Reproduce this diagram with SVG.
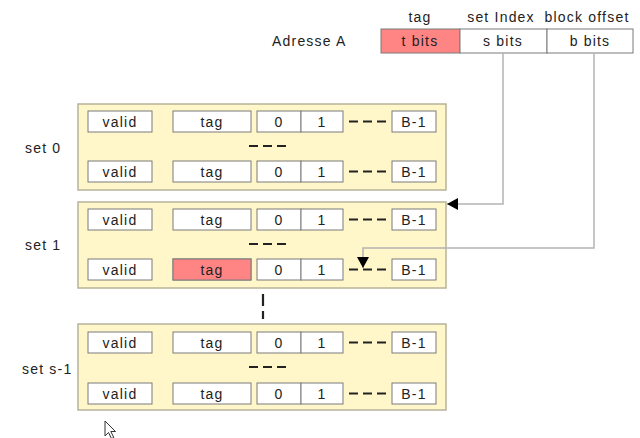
<svg xmlns="http://www.w3.org/2000/svg" width="640" height="438" viewBox="0 0 640 438">
  <style>
    text { font-family: "Liberation Sans", Arial, sans-serif; font-size: 14px; fill: #222; letter-spacing: 1.2px; }
    .c { text-anchor: middle; }
    .set { fill: #fff7c9; stroke: #b8b29a; stroke-width: 1.5; }
    .cell { fill: #fff; stroke: #7a7a7a; stroke-width: 1; }
    .hot { fill: #ff8585; stroke: #7a7a7a; stroke-width: 1; }
    .dash { stroke: #222; stroke-width: 2.2; stroke-dasharray: 9 5; fill: none; }
    .link { stroke: #b4b4b4; stroke-width: 1.5; fill: none; }
  </style>
  <defs>
    <marker id="head" markerUnits="userSpaceOnUse" markerWidth="12" markerHeight="12" refX="11" refY="6" orient="auto">
      <path d="M0,0 L11,6 L0,12 z" fill="#000"/>
    </marker>
    <!-- one cache line: valid, tag, data words 0..B-1 -->
    <g id="line">
      <rect class="cell" x="88" y="0" width="64" height="21"/>
      <text class="c" x="120" y="16">valid</text>
      <rect class="cell" x="173" y="0" width="78" height="21"/>
      <text class="c" x="212" y="16">tag</text>
      <rect class="cell" x="257" y="0" width="44" height="21"/>
      <text class="c" x="279" y="16">0</text>
      <rect class="cell" x="301" y="0" width="42" height="21"/>
      <text class="c" x="322" y="16">1</text>
      <path class="dash" d="M349,10.5 H388"/>
      <rect class="cell" x="392" y="0" width="44" height="21"/>
      <text class="c" x="414" y="16">B-1</text>
    </g>
  </defs>

  <!-- address split into tag / set index / block offset -->
  <g id="address">
    <text x="272" y="46">Adresse A</text>
    <text class="c" x="420" y="22">tag</text>
    <text class="c" x="501" y="22">set Index</text>
    <text class="c" x="587" y="22">block offset</text>
    <rect class="hot" x="381" y="29" width="79" height="24"/>
    <text class="c" x="420" y="46">t bits</text>
    <rect class="cell" x="460" y="29" width="87" height="24"/>
    <text class="c" x="503" y="46">s bits</text>
    <rect class="cell" x="547" y="29" width="86" height="24"/>
    <text class="c" x="590" y="46">b bits</text>
  </g>

  <g id="set0">
    <text x="25" y="153">set 0</text>
    <rect class="set" x="78" y="104" width="368" height="86"/>
    <use href="#line" y="111"/>
    <path class="dash" d="M249,146 H288"/>
    <use href="#line" y="161"/>
  </g>

  <g id="set1">
    <text x="25" y="250">set 1</text>
    <rect class="set" x="78" y="202" width="368" height="86"/>
    <use href="#line" y="209"/>
    <path class="dash" d="M249,244 H288"/>
    <use href="#line" y="259"/>
    <rect class="hot" x="173" y="259" width="78" height="21"/>
    <text class="c" x="212" y="275">tag</text>
  </g>

  <g id="gap">
    <path d="M263,294 V306 M263,311 V319" stroke="#222" stroke-width="2.2"/>
  </g>

  <g id="setS1">
    <text x="22" y="374">set s-1</text>
    <rect class="set" x="78" y="324" width="368" height="86" />
    <use href="#line" y="332"/>
    <path class="dash" d="M249,367 H288"/>
    <use href="#line" y="383"/>
  </g>

  <g id="connectors">
    <path class="link" d="M503,53 V204 H447" marker-end="url(#head)"/>
    <path class="link" d="M594,53 V248 H363 V268" marker-end="url(#head)"/>
  </g>

  <!-- mouse pointer -->
  <path d="M105,421 V436 L108.5,432.5 L111.5,438.5 L113.8,437.5 L110.8,431.5 L115.5,431.5 Z" fill="#fff" stroke="#333" stroke-width="1"/>
</svg>
